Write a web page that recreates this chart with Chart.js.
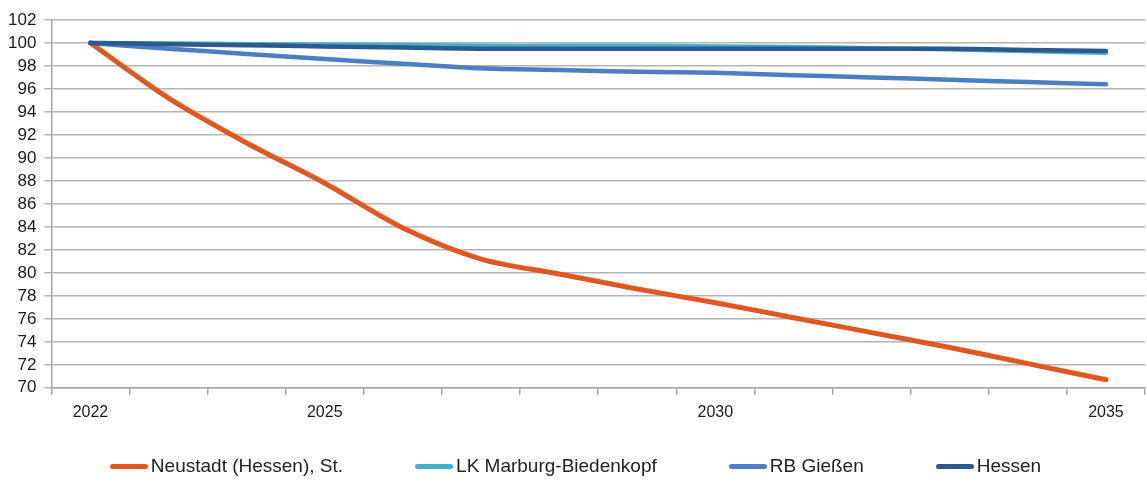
<!DOCTYPE html>
<html>
<head>
<meta charset="utf-8">
<script src="https://cdn.jsdelivr.net/npm/chart.js@4"></script>
<style>
  html, body { margin: 0; padding: 0; background: #fff; }
  #box { position: relative; width: 1147px; height: 482px; }
  #legende {
    position: absolute; left: 4px; right: 0; top: 455px;
    display: flex; justify-content: center; gap: 72px;
    font-family: 'Liberation Sans', Arial, sans-serif; font-size: 19px; color: #222;
  }
  #legende .item { display: flex; align-items: center; white-space: nowrap; }
  #legende .strich { width: 38px; height: 5px; border-radius: 3px; margin-right: 3px; }
</style>
</head>
<body>
<div id="box">
  <canvas id="grafico" width="1147" height="482"></canvas>
  <div id="legende"></div>
</div>
<script>
const jahre = ["2022", "2023", "2024", "2025", "2026", "2027", "2028", "2029", "2030", "2031", "2032", "2033", "2034", "2035"];
const jahreMitLabel = ["2022", "2025", "2030", "2035"];

const neustadt = [100, 95.2, 91.3, 87.8, 83.9, 81.2, 79.9, 78.6, 77.4, 76.1, 74.8, 73.5, 72.1, 70.7];
const marburg  = [100, 99.95, 99.9, 99.85, 99.8, 99.75, 99.75, 99.75, 99.7, 99.65, 99.55, 99.45, 99.3, 99.15];
const giessen  = [100, 99.5, 99.05, 98.6, 98.2, 97.8, 97.65, 97.5, 97.4, 97.2, 97.0, 96.8, 96.6, 96.4];
const hessen   = [100, 99.9, 99.8, 99.7, 99.6, 99.5, 99.5, 99.5, 99.5, 99.5, 99.5, 99.5, 99.4, 99.3];

// Hessen liegt oben, Neustadt ganz unten
function serie(label, data, farbe, breite, reihenfolge) {
  return {
    label: label,
    data: data,
    borderColor: farbe,
    backgroundColor: farbe,
    borderWidth: breite,
    borderCapStyle: "round",
    borderJoinStyle: "round",
    pointRadius: 0,
    tension: 0.3,
    fill: false,
    order: reihenfolge
  };
}

const datasets = [
  serie("Neustadt (Hessen), St.", neustadt, "#e2561f", 5, 4),
  serie("LK Marburg-Biedenkopf", marburg, "#45aecb", 4.5, 3),
  serie("RB Gießen", giessen, "#4a7fc2", 4.5, 2),
  serie("Hessen", hessen, "#2d5a8e", 4.5, 1)
];

const leg = document.getElementById("legende");
datasets.forEach(d => {
  leg.innerHTML += `<div class="item"><span class="strich" style="background:${d.borderColor}"></span>${d.label}</div>`;
});

const ctx = document.getElementById("grafico");

new Chart(ctx, {
  type: "line",
  data: {
    labels: jahre,
    datasets: datasets
  },
  options: {
    responsive: false,
    animation: false,
    layout: {
      padding: { left: 0, right: 2, top: 20, bottom: 52 }
    },
    plugins: {
      tooltip: { enabled: false },
      legend: { display: false }
    },
    scales: {
      x: {
        offset: true,
        grid: {
          offset: true,
          drawOnChartArea: false,
          tickLength: 7,
          color: "#a6a6a6",
          lineWidth: 1.5
        },
        border: { color: "#a6a6a6", width: 1.5 },
        ticks: {
          autoSkip: false,
          maxRotation: 0,
          padding: 8,
          color: "#1a1a1a",
          font: { family: "'Liberation Sans', Arial, sans-serif", size: 16 },
          callback: function (v, i) {
            const j = jahre[i];
            return jahreMitLabel.includes(j) ? j : "";
          }
        }
      },
      y: {
        min: 70,
        max: 102,
        grid: {
          color: "#b4b4b4",
          lineWidth: 1.5,
          tickLength: 7
        },
        border: { color: "#a6a6a6", width: 1.5 },
        ticks: {
          stepSize: 2,
          autoSkip: false,
          padding: 8,
          color: "#1a1a1a",
          font: { family: "'Liberation Sans', Arial, sans-serif", size: 17 }
        }
      }
    }
  }
});
</script>
</body>
</html>
